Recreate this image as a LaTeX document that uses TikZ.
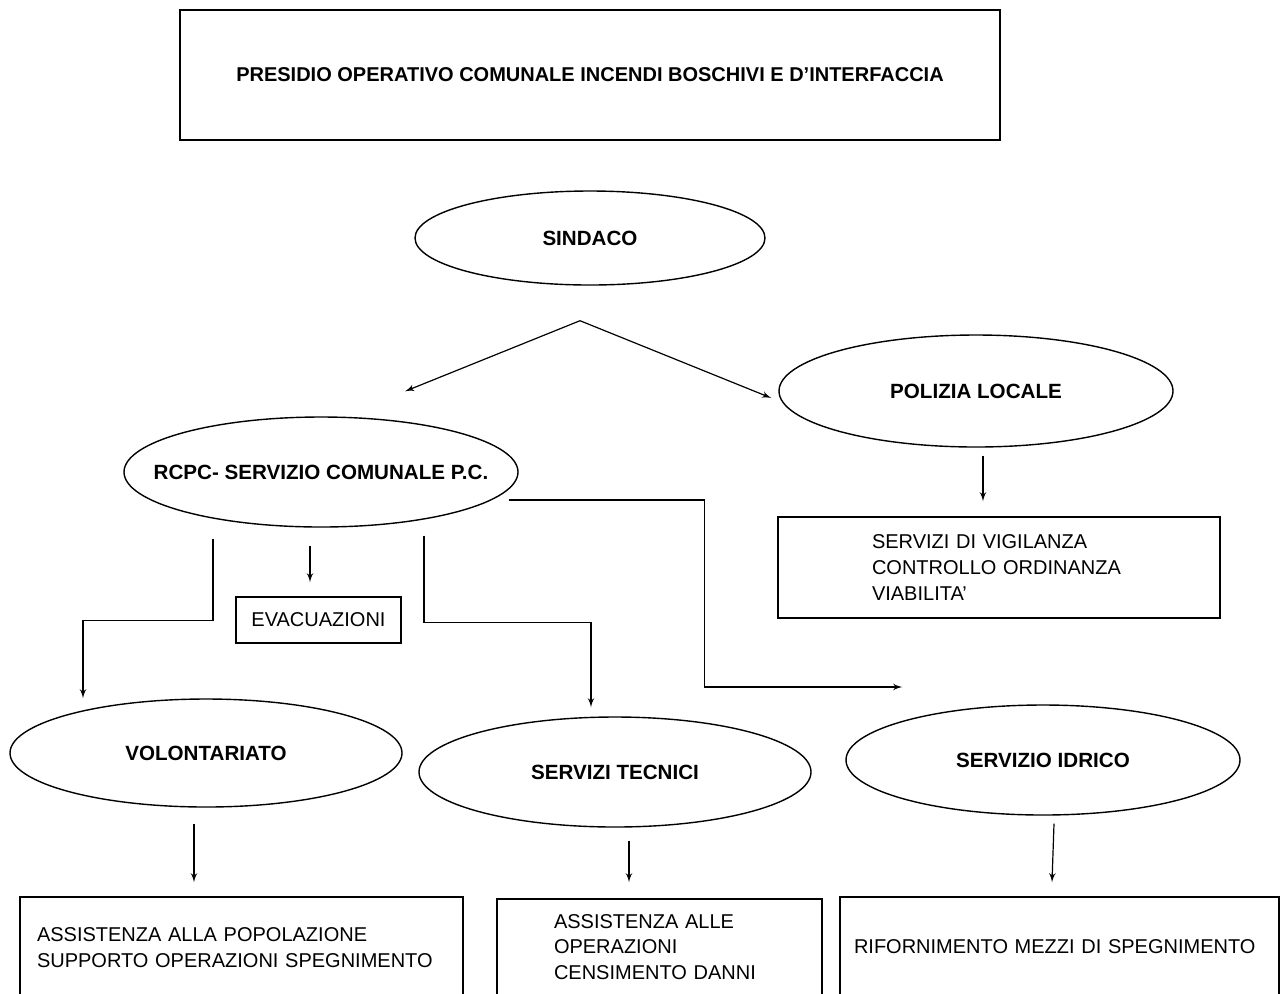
\documentclass[tikz,border=0pt]{standalone}
\usepackage{fontspec}
\setmainfont{Liberation Sans}
\usepackage{tikz}
\usetikzlibrary{arrows,shapes,calc}

\begin{document}
\begin{tikzpicture}[x=0.5pt,y=-0.5pt,line width=0.7pt,
  oval/.style={draw,ellipse,inner xsep=-20pt,inner ysep=0pt,font=\fontsize{10.3}{12.8}\selectfont\bfseries},
  box/.style={draw,inner sep=0pt,align=left,font=\fontsize{10}{12.8}\selectfont},
  link/.style={->,>=latex',line width=0.6pt}]
\useasboundingbox (0,0) rectangle (1281,993);
\clip (0,0) rectangle (1281,993);

\node (titolo) at (590,75)[draw,minimum width=410pt,minimum height=65pt,font=\fontsize{10}{12}\selectfont\bfseries] {PRESIDIO OPERATIVO COMUNALE INCENDI BOSCHIVI E D'INTERFACCIA};

\node (sindaco) at (590,238)[oval,minimum width=175pt,minimum height=47pt] {SINDACO};
\node (rcpc) at (321,472)[oval,minimum width=197pt,minimum height=55pt] {RCPC- SERVIZIO COMUNALE P.C.};
\node (pol) at (976,391)[oval,minimum width=197pt,minimum height=56pt] {POLIZIA LOCALE};
\node (vig) at (999,567.5)[box,text width=127pt,inner xsep=47pt,minimum height=50.5pt] {SERVIZI DI VIGILANZA\\CONTROLLO ORDINANZA\\VIABILITA'};
\node (evac) at (318.5,620)[box,minimum width=82.5pt,minimum height=23pt] {EVACUAZIONI};

\node (vol) at (206,753)[oval,minimum width=196pt,minimum height=54pt] {VOLONTARIATO};
\node (tec) at (615,772)[oval,minimum width=196pt,minimum height=55pt] {SERVIZI TECNICI};
\node (idr) at (1043,760)[oval,minimum width=197pt,minimum height=55pt] {SERVIZIO IDRICO};

\node (assvol) at (241.5,947.5)[box,text width=204.5pt,inner xsep=8.5pt,minimum height=50.5pt] {ASSISTENZA ALLA POPOLAZIONE\\SUPPORTO OPERAZIONI SPEGNIMENTO};
\node (asstec) at (659.5,947)[box,text width=105.5pt,inner xsep=28.5pt,minimum height=48pt] {ASSISTENZA ALLE\\OPERAZIONI\\CENSIMENTO DANNI};
\node (rif) at (1059.5,947)[box,text width=205.5pt,inner xsep=7pt,minimum height=50pt] {RIFORNIMENTO MEZZI DI SPEGNIMENTO};

\coordinate (bivio) at ($(sindaco.south)+(-10,35)$);
\draw [link] (bivio) -- ($(rcpc.north)+(84,-25)$);
\draw [link] (bivio) -- ($(pol.west)+(-7,7)$);
\draw [link] ($(pol.south)+(7,8)$) -- ($(vig.north)+(-16,-15)$);
\draw [link] ($(rcpc.south)+(-11,18)$) -- ($(evac.north)+(-8.5,-14)$);
\draw [link] ($(rcpc.south)+(-108,11)$) |- ($(vol.north)+(-123,-78)$) -- ($(vol.north)+(-123,0)$);
\draw [link] ($(rcpc.south)+(103,8)$) |- ($(tec.north)+(-24,-94)$) -- ($(tec.north)+(-24,-9)$);
\draw [link] ($(rcpc.east)+(-10,28)$) -| ($(idr.west)+(-141,-73)$) -- ($(idr.west)+(57,-73)$);
\draw [link] ($(vol.south)+(-12,16)$) -- ($(assvol.north)+(-47.5,-14)$);
\draw [link] ($(tec.south)+(14,13)$) -- ($(asstec.north)+(-30.5,-16)$);
\draw [link] ($(idr.south)+(11,8)$) -- ($(rif.north)+(-7.5,-14)$);
\end{tikzpicture}
\end{document}
